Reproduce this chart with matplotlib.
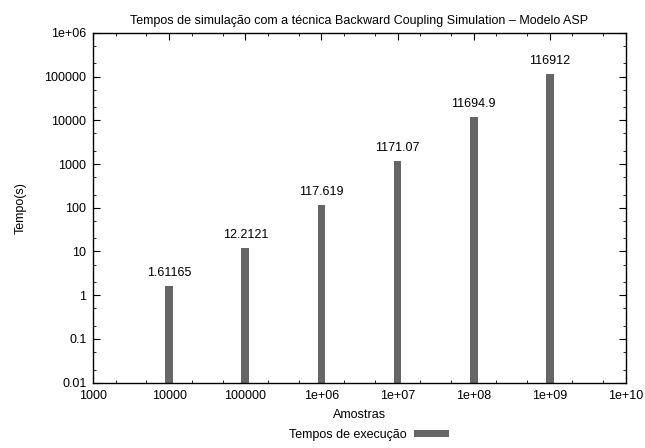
import numpy as np
import matplotlib.pyplot as plt
from matplotlib.ticker import FuncFormatter, LogLocator, NullFormatter

plt.rcParams['font.family'] = ['Liberation Sans', 'DejaVu Sans']

# data
amostras = [1e4, 1e5, 1e6, 1e7, 1e8, 1e9]
tempos = [1.61165, 12.2121, 117.619, 1171.07, 11694.9, 116912]
rotulos = ['1.61165', '12.2121', '117.619', '1171.07', '11694.9', '116912']

fig = plt.figure(figsize=(6.45, 4.48), dpi=100)
ax = fig.add_axes([0.1447, 0.1458, 0.8253, 0.781])

# bars of constant width on a log axis
half = 0.052
x = np.array(amostras)
left = x * 10 ** (-half)
width = x * (10 ** half - 10 ** (-half))
ymin = 0.01
bars = ax.bar(left, np.array(tempos) - ymin, width=width, bottom=ymin, align='edge',
              color='#666666', label='Tempos de execução', zorder=2.6)

for xi, yi, txt in zip(amostras, tempos, rotulos):
    ax.annotate(txt, (xi, yi), xytext=(0, 5), textcoords='offset points',
                ha='center', va='bottom', fontsize=9)

ax.set_xscale('log')
ax.set_yscale('log')
ax.set_xlim(1e3, 1e10)
ax.set_ylim(1e-2, 1e6)

fmt = FuncFormatter(lambda v, p: '%g' % v)
ax.xaxis.set_major_locator(LogLocator(base=10, numticks=20))
ax.yaxis.set_major_locator(LogLocator(base=10, numticks=20))
ax.xaxis.set_major_formatter(fmt)
ax.yaxis.set_major_formatter(fmt)
ax.xaxis.set_minor_locator(LogLocator(base=10, subs=(2, 5), numticks=20))
ax.yaxis.set_minor_locator(LogLocator(base=10, subs=(2, 5), numticks=20))
ax.xaxis.set_minor_formatter(NullFormatter())
ax.yaxis.set_minor_formatter(NullFormatter())

ax.tick_params(which='both', direction='in', top=True, right=True, labelsize=9, color='black')
ax.tick_params(which='major', length=5, width=0.8, pad=5)
ax.tick_params(which='minor', length=2.5, width=0.6)
for s in ax.spines.values():
    s.set_linewidth(1.0)
    s.set_zorder(3)

ax.set_title('Tempos de simulação com a técnica Backward Coupling Simulation – Modelo ASP',
             fontsize=9, pad=6)
ax.set_xlabel('Amostras', fontsize=9, labelpad=5)
ax.set_ylabel('Tempo(s)', fontsize=9, labelpad=13)

fig.legend(handles=[bars], labels=['Tempos de execução'], loc='center',
           bbox_to_anchor=(0.572, 1 - 435 / 448), frameon=False, markerfirst=False,
           fontsize=9, handlelength=2.8, handleheight=0.5, handletextpad=0.6)

fig.savefig('out.png', dpi=100)
